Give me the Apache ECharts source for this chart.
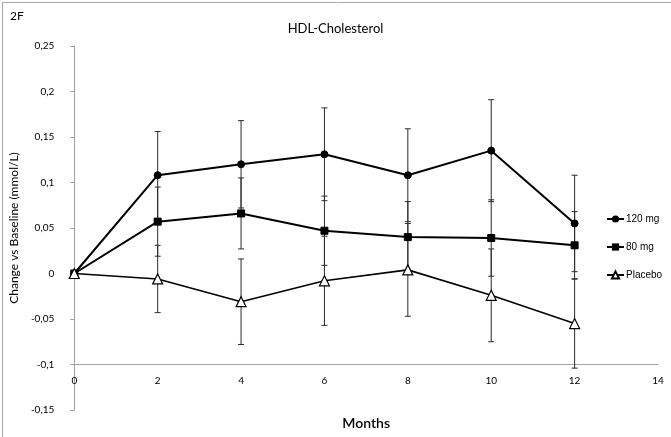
<!DOCTYPE html>
<html>
<head>
<meta charset="utf-8">
<script src="https://cdn.jsdelivr.net/npm/echarts@6/dist/echarts.min.js"></script>
<style>
  html, body { margin: 0; padding: 0; background: #fff; }
  #chart { width: 671px; height: 437px; }
</style>
</head>
<body>
<div id="chart"></div>
<script>
// Visit months
const months = [0, 2, 4, 6, 8, 10, 12];

// Mean change vs baseline (mmol/L) and error-bar half widths per group
const mg120 = [0, 0.108, 0.120, 0.131, 0.108, 0.135, 0.055];
const mg120Err = [0, 0.048, 0.048, 0.051, 0.051, 0.056, 0.053];
const mg80 = [0, 0.057, 0.066, 0.047, 0.040, 0.039, 0.031];
const mg80Err = [0, 0.038, 0.039, 0.038, 0.039, 0.042, 0.037];
const placebo = [0, -0.006, -0.031, -0.008, 0.004, -0.024, -0.055];
const placeboErr = [0, 0.037, 0.047, 0.049, 0.051, 0.051, 0.049];

// Y tick labels (decimal comma), bottom to top
const yTickLabels = ['-0,15', '-0,1', '-0,05', '0', '0,05', '0,1', '0,15', '0,2', '0,25'];
const yMin = -0.15, yMax = 0.25, yStep = 0.05;
const xCross = -0.1; // value where the month axis crosses

const seriesNames = ['120 mg', '80 mg', 'Placebo'];

const chart = echarts.init(document.getElementById('chart'), null, { renderer: 'canvas' });

const gridTop = 46, gridBottom = 27, gridLeft = 74, gridRight = 13;
const gridHeight = 437 - gridTop - gridBottom;
const xAxisOffset = -gridHeight * (xCross - yMin) / (yMax - yMin);

function pairs(ys) { return months.map((m, i) => [m, ys[i]]); }
function errData(ys, es) {
  const out = [];
  months.forEach((m, i) => { if (es[i] > 0) out.push([m, ys[i] - es[i], ys[i] + es[i]]); });
  return out;
}

function renderErr(params, api) {
  const x = api.value(0);
  const lo = api.coord([x, api.value(1)]);
  const hi = api.coord([x, api.value(2)]);
  const cap = 3;
  const style = { stroke: '#2a2a2a', lineWidth: 1 };
  return {
    type: 'group',
    children: [
      { type: 'line', shape: { x1: lo[0], y1: lo[1], x2: hi[0], y2: hi[1] }, style },
      { type: 'line', shape: { x1: lo[0] - cap, y1: lo[1], x2: lo[0] + cap, y2: lo[1] }, style },
      { type: 'line', shape: { x1: hi[0] - cap, y1: hi[1], x2: hi[0] + cap, y2: hi[1] }, style }
    ]
  };
}

const baseFont = 'Lato, "Open Sans", sans-serif';

chart.setOption({
  animation: false,
  backgroundColor: '#fff',
  title: {
    text: 'HDL-Cholesterol',
    left: 'center',
    top: 17,
    textStyle: { fontFamily: baseFont, fontSize: 13, fontWeight: 'normal', color: '#000' }
  },
  graphic: [
    { type: 'line', shape: { x1: 2, y1: 2.5, x2: 671, y2: 2.5 }, style: { stroke: '#a8a8a8', lineWidth: 1 } },
    { type: 'line', shape: { x1: 2.5, y1: 2, x2: 2.5, y2: 437 }, style: { stroke: '#a8a8a8', lineWidth: 1 } },
    { type: 'text', left: 10, top: 10, style: { text: '2F', font: '12px ' + baseFont, fill: '#000' } }
  ],
  legend: {
    orient: 'vertical',
    left: 601,
    top: 209,
    itemWidth: 17,
    itemHeight: 9,
    itemGap: 18,
    data: seriesNames,
    textStyle: { fontFamily: '"Liberation Sans", Arial, sans-serif', fontSize: 10, color: '#000', padding: [0, 0, 0, -3] }
  },
  grid: { left: gridLeft, right: gridRight, top: gridTop, bottom: gridBottom },
  xAxis: {
    type: 'value',
    min: 0, max: 14, interval: 2,
    offset: xAxisOffset,
    name: 'Months',
    nameLocation: 'middle',
    nameGap: 52,
    nameTextStyle: { fontFamily: baseFont, fontSize: 14, fontWeight: 600, color: '#000' },
    axisLine: { show: true, onZero: false, lineStyle: { color: '#a0a0a0', width: 1 } },
    axisTick: { show: false },
    axisLabel: { margin: 11, fontFamily: baseFont, fontSize: 10, color: '#000' },
    splitLine: { show: false }
  },
  yAxis: {
    type: 'value',
    min: yMin, max: yMax, interval: yStep,
    name: 'Change vs Baseline (mmol/L)',
    nameLocation: 'middle',
    nameGap: 50,
    nameTextStyle: { fontFamily: baseFont, fontSize: 12, color: '#000' },
    axisLine: { show: true, onZero: false, lineStyle: { color: '#a0a0a0', width: 1 } },
    axisTick: { show: true, inside: false, length: 4, lineStyle: { color: '#a0a0a0' } },
    axisLabel: {
      margin: 20,
      fontFamily: baseFont, fontSize: 10, color: '#000',
      formatter: v => yTickLabels[Math.round((v - yMin) / yStep)]
    },
    splitLine: { show: false }
  },
  series: [
    { type: 'custom', renderItem: renderErr, data: errData(mg120, mg120Err), z: 1, silent: true },
    { type: 'custom', renderItem: renderErr, data: errData(mg80, mg80Err), z: 1, silent: true },
    { type: 'custom', renderItem: renderErr, data: errData(placebo, placeboErr), z: 1, silent: true },
    {
      name: seriesNames[0], type: 'line', data: pairs(mg120), z: 3,
      symbol: 'circle', symbolSize: 7,
      lineStyle: { color: '#000', width: 2 },
      itemStyle: { color: '#000', borderColor: '#000' }
    },
    {
      name: seriesNames[1], type: 'line', data: pairs(mg80), z: 3,
      symbol: 'rect', symbolSize: 7,
      lineStyle: { color: '#000', width: 2 },
      itemStyle: { color: '#000', borderColor: '#000' }
    },
    {
      name: seriesNames[2], type: 'line', data: pairs(placebo), z: 3,
      symbol: 'triangle', symbolSize: 10,
      lineStyle: { color: '#000', width: 1.6 },
      itemStyle: { color: '#fff', borderColor: '#000', borderWidth: 1.2 }
    }
  ]
});
</script>
</body>
</html>
